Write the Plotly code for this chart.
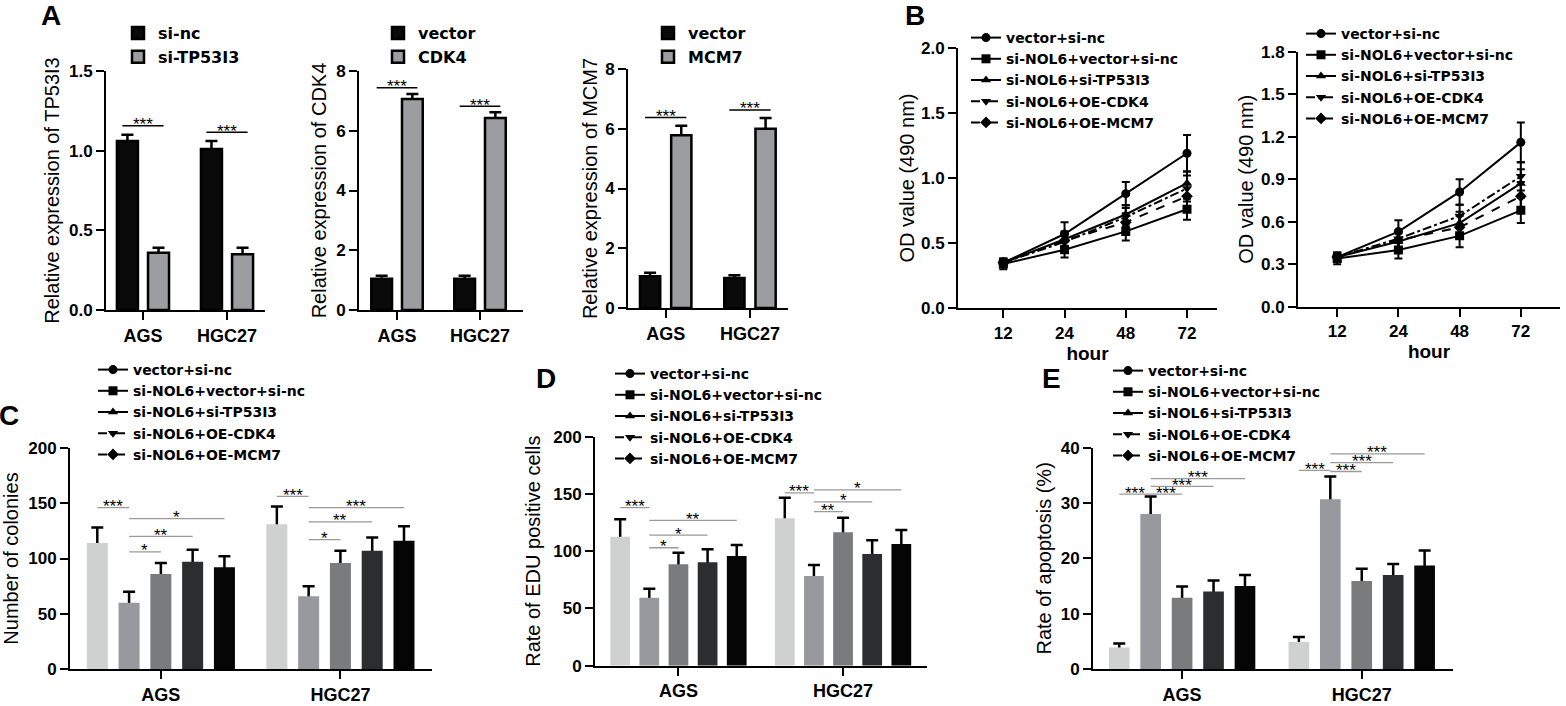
import plotly.graph_objects as go

W, H = 1566, 706
FONT = "Liberation Sans, Arial, sans-serif"
LEGEND_FONT = "DejaVu Sans, Liberation Sans, sans-serif"

cells = ["AGS", "HGC27"]
hours = ["12", "24", "48", "72"]
groups = ["vector+si-nc", "si-NOL6+vector+si-nc", "si-NOL6+si-TP53I3",
          "si-NOL6+OE-CDK4", "si-NOL6+OE-MCM7"]

# panel A - relative expression (per series: AGS, HGC27)
tp53i3_names = ["si-nc", "si-TP53I3"]
tp53i3_mean = [[1.06, 1.01], [0.36, 0.35]]
tp53i3_sd = [[0.04, 0.05], [0.03, 0.04]]
cdk4_names = ["vector", "CDK4"]
cdk4_mean = [[1.05, 1.05], [7.06, 6.43]]
cdk4_sd = [[0.10, 0.10], [0.17, 0.19]]
mcm7_names = ["vector", "MCM7"]
mcm7_mean = [[1.06, 1.00], [5.78, 6.00]]
mcm7_sd = [[0.12, 0.10], [0.32, 0.36]]

# panel B - OD value over time (per group: 12, 24, 48, 72 h)
od_ags = [[0.35, 0.57, 0.88, 1.19], [0.34, 0.45, 0.59, 0.76], [0.35, 0.53, 0.72, 0.96],
          [0.35, 0.51, 0.70, 0.92], [0.35, 0.52, 0.66, 0.86]]
od_ags_sd = [[0.03, 0.09, 0.09, 0.14], [0.04, 0.06, 0.07, 0.08], [0.03, 0.06, 0.07, 0.09],
             [0.03, 0.06, 0.07, 0.10], [0.03, 0.06, 0.07, 0.09]]
od_hgc = [[0.35, 0.53, 0.81, 1.16], [0.34, 0.40, 0.50, 0.68], [0.35, 0.46, 0.59, 0.87],
          [0.35, 0.48, 0.64, 0.92], [0.35, 0.47, 0.56, 0.78]]
od_hgc_sd = [[0.03, 0.08, 0.09, 0.14], [0.04, 0.06, 0.08, 0.09], [0.03, 0.06, 0.08, 0.10],
             [0.03, 0.06, 0.08, 0.10], [0.03, 0.06, 0.08, 0.10]]

# panels C-E (per group: AGS, HGC27)
colony_mean = [[114, 131], [60, 66], [86, 96], [97, 107], [92, 116]]
colony_sd = [[14, 16], [10, 9], [10, 11], [11, 12], [10, 13]]
edu_mean = [[112.7, 128.7], [59.4, 78.3], [88.5, 116.5], [90.3, 97.6], [95.8, 106.3]]
edu_sd = [[15.2, 18.0], [7.9, 9.7], [10.2, 12.8], [11.4, 11.9], [9.6, 12.2]]
apop_mean = [[3.9, 4.9], [28.0, 30.7], [12.9, 15.9], [14.0, 17.0], [15.0, 18.7]]
apop_sd = [[0.7, 0.9], [3.2, 4.1], [2.0, 2.2], [2.0, 2.0], [2.0, 2.7]]

# significance brackets: (cell, bar i, bar j, level, label)
sig_tp53i3 = [(0, 0, 1, 1.156, "***"), (1, 0, 1, 1.115, "***")]
sig_cdk4 = [(0, 0, 1, 7.44, "***"), (1, 0, 1, 6.82, "***")]
sig_mcm7 = [(0, 0, 1, 6.38, "***"), (1, 0, 1, 6.63, "***")]
sig_colony = [(0, 0, 1, 146, "***"), (0, 1, 2, 106, "*"), (0, 1, 3, 120, "**"), (0, 1, 4, 136, "*"),
              (1, 0, 1, 156, "***"), (1, 1, 2, 117, "*"), (1, 1, 3, 133, "**"), (1, 1, 4, 146, "***")]
sig_edu = [(0, 0, 1, 138, "***"), (0, 1, 2, 103, "*"), (0, 1, 3, 114, "*"), (0, 1, 4, 127, "**"),
           (1, 0, 1, 151, "***"), (1, 1, 2, 134.5, "**"), (1, 1, 3, 143, "*"), (1, 1, 4, 153.5, "*")]
sig_apop = [(0, 0, 1, 31.6, "***"), (0, 1, 2, 31.6, "***"), (0, 1, 3, 33.0, "***"), (0, 1, 4, 34.4, "***"),
            (1, 0, 1, 35.9, "***"), (1, 1, 2, 35.7, "***"), (1, 1, 3, 37.3, "***"), (1, 1, 4, 38.9, "***")]

PAIR_COLORS = ["#0a0a0a", "#9b9da0"]
GROUP_COLORS = ["#cfd1d0", "#97999e", "#797b7c", "#2b2d2f", "#050505"]
DASHES = ["solid", "solid", "solid", "dashdot", "dash"]
SYMBOLS = ["circle", "square", "triangle-up", "triangle-down", "diamond"]

fig = go.Figure()


def names_for(n):
    s = "" if n == 1 else str(n)
    return "x" + s, "y" + s, "xaxis" + s, "yaxis" + s


def setup_axes(n, left, right, top, bottom, xr, ymax, dtick, ytitle, xcats,
               fmt=None, xtitle=None, cat_size=18, standoff=8):
    xref, yref, xname, yname = names_for(n)
    common = dict(showline=True, linecolor="black", linewidth=2, ticks="outside", ticklen=8,
                  tickwidth=2, tickcolor="black", showgrid=False, zeroline=False, automargin=False)
    xa = dict(domain=[left / W, right / W], anchor=yref, type="category", categoryarray=xcats,
              range=xr, tickfont=dict(family=FONT, size=cat_size, color="black", weight="bold"),
              **common)
    if xtitle:
        xa["title"] = dict(text=xtitle, standoff=0,
                           font=dict(family=FONT, size=19, color="black", weight="bold"))
    ya = dict(domain=[1 - bottom / H, 1 - top / H], anchor=xref, range=[0, ymax], tick0=0, dtick=dtick,
              tickfont=dict(family=FONT, size=17, color="black", weight="bold"),
              title=dict(text=ytitle, standoff=standoff,
                         font=dict(family=FONT, size=20, color="black")),
              **common)
    if fmt:
        ya["tickformat"] = fmt
    fig.update_layout({xname: xa, yname: ya})


def bar_panel(n, means, sds, colors, names, legend, pitch, width, outline):
    xref, yref, _, _ = names_for(n)
    m = len(means)
    for k in range(m):
        off = (k - (m - 1) / 2) * pitch - width / 2
        # carrier for the error bar, covered by the real bar below the top
        fig.add_trace(go.Bar(x=cells, y=means[k], width=width, offset=off, xaxis=xref, yaxis=yref,
                             marker=dict(color="rgba(0,0,0,0)", line=dict(width=0)),
                             showlegend=False, hoverinfo="skip",
                             error_y=dict(type="data", array=sds[k], color="black",
                                          thickness=2.5, width=6)))
        fig.add_trace(go.Bar(x=cells, y=means[k], width=width, offset=off, xaxis=xref, yaxis=yref,
                             name=names[k] if names else groups[k],
                             marker=dict(color=colors[k], line=dict(color="black", width=outline)),
                             showlegend=names is not None, legend=legend))


def line_style(k):
    return dict(line=dict(color="black", width=2, dash=DASHES[k]),
                marker=dict(symbol=SYMBOLS[k], size=9, color="black"))


def line_panel(n, means, sds, legend):
    xref, yref, _, _ = names_for(n)
    for k in range(len(means)):
        fig.add_trace(go.Scatter(x=hours, y=means[k], mode="lines+markers", name=groups[k],
                                 xaxis=xref, yaxis=yref, legend=legend,
                                 error_y=dict(type="data", array=sds[k], color="black",
                                              thickness=2, width=4),
                                 **line_style(k)))


def legend_entries(n, legend):
    xref, yref, _, _ = names_for(n)
    for k in range(len(groups)):
        fig.add_trace(go.Scatter(x=[None], y=[None], mode="lines+markers", name=groups[k],
                                 xaxis=xref, yaxis=yref, legend=legend, **line_style(k)))


def sig_panel(n, items, m, pitch, pad, color, lw):
    xref, yref, _, _ = names_for(n)
    for ci, i, j, level, label in items:
        x0 = ci + (i - (m - 1) / 2) * pitch - pad
        x1 = ci + (j - (m - 1) / 2) * pitch + pad
        fig.add_shape(type="line", xref=xref, yref=yref, x0=x0, x1=x1, y0=level, y1=level,
                      line=dict(color=color, width=lw))
        fig.add_annotation(xref=xref, yref=yref, x=(x0 + x1) / 2, y=level, text=label,
                           showarrow=False, yanchor="middle", yshift=1,
                           font=dict(family=FONT, size=17, color="black"))


def legend_box(text_x, top_y, size):
    return dict(x=(text_x - 40) / W, y=1 - top_y / H, xanchor="left", yanchor="top",
                bgcolor="rgba(0,0,0,0)", tracegroupgap=0,
                font=dict(family=LEGEND_FONT, size=size, color="black", weight="bold"))


# A
setup_axes(1, 106, 265, 71, 310, [-0.44, 1.452], 1.5, 0.5, "Relative expression of TP53I3", cells, ".1f",
           standoff=4)
setup_axes(2, 359, 523, 71, 310, [-0.458, 1.518], 8, 2, "Relative expression of CDK4", cells,
           standoff=4)
setup_axes(3, 628, 788, 69, 308, [-0.447, 1.451], 8, 2, "Relative expression of MCM7", cells,
           standoff=2)
bar_panel(1, tp53i3_mean, tp53i3_sd, PAIR_COLORS, tp53i3_names, "legend", 0.37, 0.25, 2.5)
bar_panel(2, cdk4_mean, cdk4_sd, PAIR_COLORS, cdk4_names, "legend2", 0.37, 0.25, 2.5)
bar_panel(3, mcm7_mean, mcm7_sd, PAIR_COLORS, mcm7_names, "legend3", 0.37, 0.24, 2.5)
sig_panel(1, sig_tp53i3, 2, 0.37, 0.06, "black", 1.5)
sig_panel(2, sig_cdk4, 2, 0.37, 0.06, "black", 1.5)
sig_panel(3, sig_mcm7, 2, 0.37, 0.06, "black", 1.5)

# B
setup_axes(4, 958, 1217, 47.7, 308.3, [-0.74, 3.49], 2.0, 0.5, "OD value (490 nm)", hours, ".1f",
           xtitle="hour", cat_size=17, standoff=1)
setup_axes(5, 1298, 1560, 51.7, 306.7, [-0.64, 3.64], 1.8, 0.3, "OD value (490 nm)", hours, ".1f",
           xtitle="hour", cat_size=17, standoff=2)
line_panel(4, od_ags, od_ags_sd, "legend4")
line_panel(5, od_hgc, od_hgc_sd, "legend5")

# C, D, E
setup_axes(6, 70, 432, 447.7, 669.3, [-0.506, 1.51], 200, 50, "Number of colonies", cells)
setup_axes(7, 595, 927, 436.7, 665.7, [-0.507, 1.51], 200, 50, "Rate of EDU positive cells", cells,
           standoff=7)
setup_axes(8, 1093, 1453, 447.7, 669, [-0.496, 1.508], 40, 10, "Rate of apoptosis (%)", cells,
           standoff=4)
bar_panel(6, colony_mean, colony_sd, GROUP_COLORS, None, None, 0.177, 0.117, 0)
bar_panel(7, edu_mean, edu_sd, GROUP_COLORS, None, None, 0.177, 0.12, 0)
bar_panel(8, apop_mean, apop_sd, GROUP_COLORS, None, None, 0.175, 0.115, 0)
legend_entries(6, "legend6")
legend_entries(7, "legend7")
legend_entries(8, "legend8")
sig_panel(6, sig_colony, 5, 0.177, 0, "#9a9a9a", 1.3)
sig_panel(7, sig_edu, 5, 0.177, 0, "#9a9a9a", 1.3)
sig_panel(8, sig_apop, 5, 0.175, 0, "#9a9a9a", 1.3)

for letter, lx, ly in [("A", 51, 16), ("B", 915, 16), ("C", 9, 415), ("D", 546, 378), ("E", 1051, 378)]:
    fig.add_annotation(xref="paper", yref="paper", x=lx / W, y=1 - ly / H, text=letter,
                       showarrow=False, xanchor="center", yanchor="middle",
                       font=dict(family=FONT, size=28, color="black", weight="bold"))

fig.update_layout(
    width=W, height=H,
    margin=dict(l=0, r=0, t=0, b=0),
    paper_bgcolor="white", plot_bgcolor="white",
    barmode="overlay", hovermode=False, showlegend=True,
    legend=legend_box(158, 16, 16),
    legend2=legend_box(418, 16, 16),
    legend3=legend_box(688, 16, 16),
    legend4=legend_box(1006, 22, 14),
    legend5=legend_box(1341, 18, 14),
    legend6=legend_box(133, 354, 14),
    legend7=legend_box(650, 358, 14),
    legend8=legend_box(1148, 355, 14),
)

fig.write_html("out.html", config={"displayModeBar": False},
               post_script="document.body.style.margin='0';")
